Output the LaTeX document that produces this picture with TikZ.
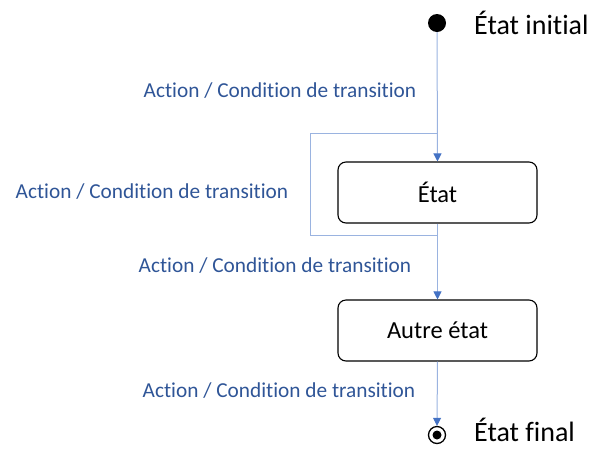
\documentclass[tikz,border=0pt]{standalone}
\usepackage{fontspec}
\setmainfont{Carlito}[Ligatures=NoCommon]
\usetikzlibrary{arrows.meta}
\definecolor{lineblue}{HTML}{9AB3E0}
\definecolor{tipblue}{HTML}{4472C4}
\definecolor{textblue}{HTML}{2F5597}
\tikzset{
  statebox/.style={draw=black, line width=1.1pt, rounded corners=8pt, minimum width=199pt, minimum height=61pt, font=\fontsize{24.5}{28}\selectfont, inner sep=0pt},
  conn/.style={draw=lineblue, line width=1pt},
  arr/.style={conn, -{Triangle[length=8pt,width=8pt,color=tipblue]}},
  lbl/.style={text=textblue, font=\fontsize{21.3}{24}\selectfont, inner sep=0pt},
  side/.style={font=\fontsize{28}{32}\selectfont, inner sep=0pt, anchor=west},
}
\begin{document}
\begin{tikzpicture}[x=1pt,y=-1pt]
\useasboundingbox (0,0) rectangle (589,448);
\node[circle, fill=black, minimum size=18pt, inner sep=0pt] (init) at (437,23) {};
\node[side] (initlbl) at (474,23) {État initial};
\node[statebox] (etat) at (437.5,192.5) {État};
\node[statebox] (autre) at (437.5,330.5) {Autre état};
\node[circle, draw=black, line width=1.3pt, minimum size=17pt, inner sep=0pt] (final) at (437,435) {};
\node[circle, fill=black, minimum size=9pt, inner sep=0pt] at (final.center) {};
\node[side] (finallbl) at (474,429.5) {État final};
\coordinate (ltop) at (437,133);
\coordinate (lbot) at (437,235);
\draw[arr] (init) -- (etat.north);
\draw[conn] (lbot) -- (310,235) -- (310,133) -- (ltop);
\draw[arr] (etat.south) -- (autre.north);
\draw[arr] (autre.south) -- (final.north);
\node[lbl] (l1) at (280,91) {Action / Condition de transition};
\node[lbl] (l2) at (152,192) {Action / Condition de transition};
\node[lbl] (l3) at (275,266) {Action / Condition de transition};
\node[lbl] (l4) at (279,391) {Action / Condition de transition};
\end{tikzpicture}
\end{document}
